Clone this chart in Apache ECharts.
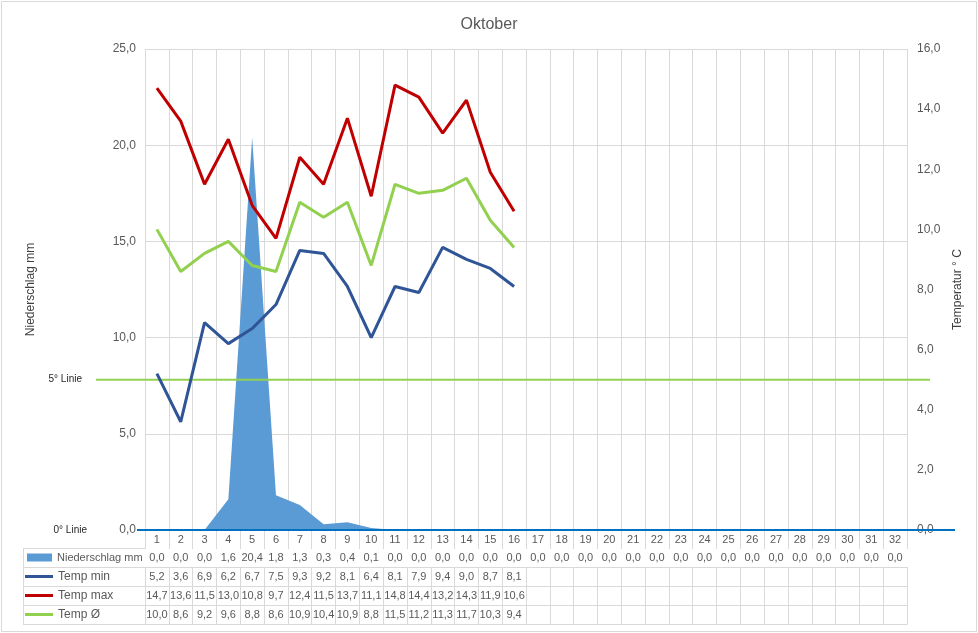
<!DOCTYPE html>
<html><head><meta charset="utf-8">
<script src="https://cdn.jsdelivr.net/npm/echarts@6/dist/echarts.min.js"></script>
<style>html,body{margin:0;padding:0;background:#fff}#c{width:978px;height:633px}</style>
</head><body><div id="c"></div>
<script>
// ---- data ----
const days = ['1','2','3','4','5','6','7','8','9','10','11','12','13','14','15','16','17','18','19','20','21','22','23','24','25','26','27','28','29','30','31','32'];
const niederschlag = [0.0,0.0,0.0,1.6,20.4,1.8,1.3,0.3,0.4,0.1,0.0,0.0,0.0,0.0,0.0,0.0,0.0,0.0,0.0,0.0,0.0,0.0,0.0,0.0,0.0,0.0,0.0,0.0,0.0,0.0,0.0,0.0];
const tempMin = [5.2,3.6,6.9,6.2,6.7,7.5,9.3,9.2,8.1,6.4,8.1,7.9,9.4,9.0,8.7,8.1];
const tempMax = [14.7,13.6,11.5,13.0,10.8,9.7,12.4,11.5,13.7,11.1,14.8,14.4,13.2,14.3,11.9,10.6];
const tempAvg = [10.0,8.6,9.2,9.6,8.8,8.6,10.9,10.4,10.9,8.8,11.5,11.2,11.3,11.7,10.3,9.4];
const linie5 = 5;
const linie0 = 0;
const leftAxis = {min: 0, max: 25, interval: 5};
const rightAxis = {min: 0, max: 16, interval: 2};

// ---- layout ----
const GL = 145, GR = 907, GT = 49, GB = 530;
const ROW = 19, HEAD = 18, TL = 23;
const FONT = 'Liberation Sans';
const GRID = '#d9d9d9', TXT = '#595959';

const fmt = v => (v === undefined || v === null) ? '' : v.toFixed(1).replace('.', ',');
const pad = arr => days.map((d, i) => fmt(arr[i]));

function tableAxis(labels, k) {
  return {
    type: 'category', gridIndex: 0, position: 'bottom', data: labels,
    offset: HEAD + ROW * k, boundaryGap: true,
    axisLine: {show: true, lineStyle: {color: GRID, width: 1}},
    axisTick: {show: true, length: ROW, interval: 0, lineStyle: {color: GRID}},
    axisLabel: {show: true, interval: 0, margin: 4, fontSize: 11, color: TXT, fontFamily: FONT},
    splitLine: {show: false}
  };
}

const chart = echarts.init(document.getElementById('c'), null, {renderer: 'canvas'});
const tableRowsY = [0,1,2,3,4].map(k => GB + HEAD + ROW * k);

chart.setOption({
  animation: false,
  backgroundColor: '#fff',
  textStyle: {fontFamily: FONT},
  title: {text: 'Oktober', left: 'center', top: 12,
    textStyle: {fontSize: 16, fontWeight: 'normal', color: TXT, fontFamily: FONT}},
  legend: [
    {data: ['Niederschlag mm'], orient: 'vertical', left: 27, top: GB + HEAD, padding: 0,
     icon: 'rect', itemWidth: 25, itemHeight: 8, itemGap: 0, selectedMode: false,
     textStyle: {fontSize: 11, color: TXT, lineHeight: ROW, fontFamily: FONT}},
    {data: ['Temp min', 'Temp max', 'Temp Ø'], orient: 'vertical', left: 25, top: GB + HEAD + ROW, padding: 0,
     icon: 'rect', itemWidth: 28, itemHeight: 3, itemGap: 0, selectedMode: false,
     textStyle: {fontSize: 12, color: TXT, lineHeight: ROW, fontFamily: FONT}}
  ],
  grid: [
    {left: GL, top: GT, width: GR - GL, height: GB - GT, containLabel: false},
    {left: 96, top: GT, width: 930 - 96, height: GB - GT},
    {left: 137, top: GT, width: 955 - 137, height: GB - GT}
  ],
  xAxis: [
    {type: 'category', gridIndex: 0, data: days, boundaryGap: true, position: 'bottom',
     axisLine: {show: false},
     axisTick: {show: true, length: HEAD, interval: 0, lineStyle: {color: GRID}},
     axisLabel: {interval: 0, margin: 4, fontSize: 11, color: TXT, fontFamily: FONT},
     splitLine: {show: true, interval: 0, lineStyle: {color: GRID, width: 1}}},
    tableAxis(pad(niederschlag), 0),
    tableAxis(pad(tempMin), 1),
    tableAxis(pad(tempMax), 2),
    tableAxis(pad(tempAvg), 3),
    {type: 'category', gridIndex: 0, position: 'bottom', data: days, offset: HEAD + ROW * 4,
     axisLine: {show: true, lineStyle: {color: GRID}}, axisTick: {show: false}, axisLabel: {show: false}},
    {type: 'value', gridIndex: 1, min: 0, max: 1, show: false},
    {type: 'value', gridIndex: 2, min: 0, max: 1, show: false}
  ],
  yAxis: [
    {type: 'value', gridIndex: 0, position: 'left', min: leftAxis.min, max: leftAxis.max, interval: leftAxis.interval,
     name: 'Niederschlag mm', nameLocation: 'middle', nameGap: 108, nameRotate: 90,
     nameTextStyle: {fontSize: 12, color: '#404040', fontFamily: FONT},
     axisLine: {show: false}, axisTick: {show: false},
     axisLabel: {formatter: v => fmt(v), fontSize: 12, color: TXT, margin: 9, fontFamily: FONT},
     splitLine: {show: true, lineStyle: {color: GRID, width: 1}}},
    {type: 'value', gridIndex: 0, position: 'right', min: rightAxis.min, max: rightAxis.max, interval: rightAxis.interval,
     name: 'Temperatur ° C', nameLocation: 'middle', nameGap: 42, nameRotate: 90,
     nameTextStyle: {fontSize: 12, color: '#404040', fontFamily: FONT},
     axisLine: {show: false}, axisTick: {show: false},
     axisLabel: {formatter: v => fmt(v), fontSize: 12, color: TXT, margin: 10, fontFamily: FONT},
     splitLine: {show: false}},
    {type: 'value', gridIndex: 1, min: rightAxis.min, max: rightAxis.max, show: false},
    {type: 'value', gridIndex: 2, min: rightAxis.min, max: rightAxis.max, show: false}
  ],
  series: [
    {name: 'Niederschlag mm', type: 'line', xAxisIndex: 0, yAxisIndex: 0, data: niederschlag,
     color: '#5B9BD5', symbol: 'none', lineStyle: {width: 0}, areaStyle: {color: '#5B9BD5', opacity: 1}, z: 1},
    {name: 'Temp min', type: 'line', xAxisIndex: 0, yAxisIndex: 1, data: tempMin,
     color: '#2F5597', symbol: 'none', lineStyle: {width: 3, color: '#2F5597'}, z: 3},
    {name: 'Temp max', type: 'line', xAxisIndex: 0, yAxisIndex: 1, data: tempMax,
     color: '#C00000', symbol: 'none', lineStyle: {width: 3, color: '#C00000'}, z: 3},
    {name: 'Temp Ø', type: 'line', xAxisIndex: 0, yAxisIndex: 1, data: tempAvg,
     color: '#92D050', symbol: 'none', lineStyle: {width: 3, color: '#92D050'}, z: 3},
    {name: '5° Linie', type: 'line', xAxisIndex: 6, yAxisIndex: 2, clip: false,
     symbol: 'circle', symbolSize: 0.01, showSymbol: true, color: '#92D050',
     lineStyle: {width: 2, color: '#92D050'}, z: 2,
     data: [{value: [0, linie5], label: {show: true, position: 'left', distance: 14, formatter: '5° Linie',
              fontSize: 10, color: '#262626', fontFamily: FONT}}, [1, linie5]]},
    {name: '0° Linie', type: 'line', xAxisIndex: 7, yAxisIndex: 3, clip: false,
     symbol: 'circle', symbolSize: 0.01, showSymbol: true, color: '#0070C0',
     lineStyle: {width: 2, color: '#0070C0'}, z: 4,
     data: [{value: [0, linie0], label: {show: true, position: 'left', distance: 50, formatter: '0° Linie',
              fontSize: 10, color: '#262626', fontFamily: FONT}}, [1, linie0]]}
  ],
  graphic: [
    {type: 'rect', shape: {x: 1.5, y: 1.5, width: 975, height: 630}, style: {fill: 'none', stroke: GRID, lineWidth: 1}, silent: true, z: -1},
    {type: 'line', shape: {x1: TL + 0.5, y1: tableRowsY[0], x2: TL + 0.5, y2: tableRowsY[4]}, style: {stroke: GRID, lineWidth: 1}, silent: true},
    ...tableRowsY.map(y => ({type: 'line', shape: {x1: TL, y1: y + 0.5, x2: GL, y2: y + 0.5}, style: {stroke: GRID, lineWidth: 1}, silent: true}))
  ]
});
</script>
</body></html>
